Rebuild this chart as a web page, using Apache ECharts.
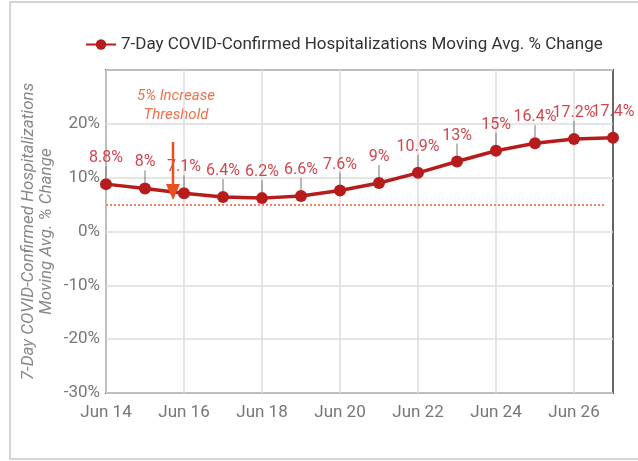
<!DOCTYPE html>
<html>
<head>
<meta charset="utf-8">
<script src="https://cdn.jsdelivr.net/npm/echarts@6/dist/echarts.min.js"></script>
<style>
  html, body { margin: 0; padding: 0; background: #fff; }
  #chart { width: 638px; height: 461px; }
</style>
</head>
<body>
<div id="chart"></div>
<script>
// data
var days = ['Jun 14', 'Jun 15', 'Jun 16', 'Jun 17', 'Jun 18', 'Jun 19', 'Jun 20',
            'Jun 21', 'Jun 22', 'Jun 23', 'Jun 24', 'Jun 25', 'Jun 26', 'Jun 27'];
var pctChange = [8.8, 8, 7.1, 6.4, 6.2, 6.6, 7.6, 9, 10.9, 13, 15, 16.4, 17.2, 17.4];
var threshold = 5;
var seriesName = '7-Day COVID-Confirmed Hospitalizations Moving Avg. % Change';

var chart = echarts.init(document.getElementById('chart'), null, {renderer: 'canvas'});

chart.setOption({
    animation: false,
    textStyle: { fontFamily: 'Roboto' },
    graphic: [
        // outer frame
        { type: 'rect', shape: { x: 10, y: 2, width: 640, height: 457 },
          style: { fill: 'none', stroke: '#c8c8c8', lineWidth: 1.5 }, z: -1 },
        // threshold note + arrow
        { type: 'text', x: 176, y: 87,
          style: { text: '5% Increase\nThreshold', fill: '#f0704a', font: 'italic 15px Roboto',
                   textAlign: 'center', lineHeight: 19 } },
        { type: 'line', shape: { x1: 173, y1: 142, x2: 173, y2: 186 },
          style: { stroke: '#e8501e', lineWidth: 2.5 }, z: 20 },
        { type: 'polygon', shape: { points: [[166, 184], [180, 184], [173, 200]] },
          style: { fill: '#e8501e' }, z: 20 }
    ],
    legend: {
        top: 31, left: 80,
        itemWidth: 30, itemHeight: 13, itemGap: 6,
        textStyle: { color: '#333', fontSize: 17 },
        data: [seriesName]
    },
    grid: { left: 106, right: 25, top: 70, bottom: 68, show: true,
            borderColor: '#666', borderWidth: 2 },
    xAxis: {
        type: 'category',
        data: days,
        boundaryGap: false,
        axisLine: { show: false },
        axisTick: { show: false },
        axisLabel: { interval: 1, color: '#777', fontSize: 17, margin: 11 },
        splitLine: { show: true, interval: 1, lineStyle: { color: '#ddd', width: 1.5 } }
    },
    yAxis: {
        type: 'value',
        min: -30, max: 30, interval: 10,
        name: '7-Day COVID-Confirmed Hospitalizations\nMoving Avg. % Change',
        nameLocation: 'middle',
        nameGap: 50,
        nameMoveOverlap: false,
        nameTextStyle: { color: '#888', fontSize: 17, fontStyle: 'italic', lineHeight: 18 },
        axisLine: { show: false },
        axisTick: { show: false },
        axisLabel: { formatter: '{value}%', color: '#777', fontSize: 17, showMaxLabel: false, margin: 6 },
        splitLine: { lineStyle: { color: '#ddd', width: 1.5 } }
    },
    series: [{
        name: seriesName,
        type: 'line',
        data: pctChange,
        symbol: 'circle',
        symbolSize: 12,
        itemStyle: { color: '#b71c1c' },
        lineStyle: { color: '#b71c1c', width: 3.5 },
        label: { show: true, position: 'top', distance: 5, color: '#d0464e', fontSize: 16,
                 formatter: '{c}%' },
        labelLayout: { dy: -7 },
        labelLine: { show: true, lineStyle: { color: '#777', width: 1 } },
        markLine: {
            silent: true,
            symbol: 'none',
            label: { show: false },
            lineStyle: { color: '#f08060', type: [2, 2], width: 2 },
            data: [[{ coord: [0, threshold] }, { coord: [13, threshold], x: 605 }]]
        },
        z: 5
    }]
});
</script>
</body>
</html>
